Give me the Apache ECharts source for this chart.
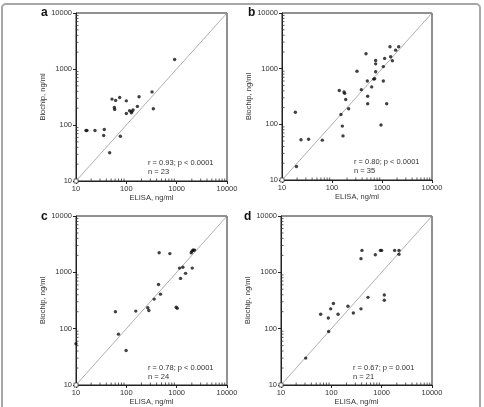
<!DOCTYPE html>
<html>
<head>
<meta charset="utf-8">
<script src="https://cdn.jsdelivr.net/npm/echarts@6/dist/echarts.min.js"></script>
<style>
  html, body { margin: 0; padding: 0; background: #fff; }
  #chart { width: 484px; height: 407px; }
</style>
</head>
<body>
<div id="chart"></div>
<script>
// ELISA (x) vs Biochip (y), ng/ml
const aElisa = [15.8, 16.5, 23.8, 36.5, 35.5, 46.7, 51.9, 61.4, 57.8, 58.7, 73.8, 76, 100, 100, 116, 126, 136, 166, 179, 324, 344, 912, 129]
const aChip  = [80, 80, 80, 83, 65, 32, 290, 275, 205, 190, 310, 63, 270, 160, 180, 165, 185, 215, 320, 390, 195, 1480, 175]

const bElisa = [18.5, 19.4, 24, 34, 64, 140, 151, 161, 166, 174, 179, 188, 215, 316, 386, 479, 509, 517, 517, 621, 681, 713, 747, 747, 747, 1063, 1063, 1130, 1240, 1445, 1490, 1610, 1875, 2154, 955]
const bChip  = [165, 17.5, 53, 54, 52, 405, 150, 93, 62, 380, 360, 280, 190, 900, 420, 1850, 600, 320, 235, 470, 650, 660, 880, 1400, 1220, 1090, 600, 1530, 235, 2480, 1640, 1390, 2150, 2480, 97]

const cElisa = [10, 60.7, 69.7, 98.9, 154, 267, 280, 357, 436, 449, 477, 732, 979, 1026, 1140, 1194, 1328, 1502, 1946, 2008, 2039, 2100, 2166, 2270]
const cChip  = [54, 200, 80, 41, 205, 235, 210, 335, 610, 2230, 410, 2150, 240, 230, 1190, 780, 1230, 960, 2230, 2360, 1190, 2480, 2480, 2480]

const dElisa = [31, 61.4, 87, 88.5, 97, 110, 136, 214, 274, 388, 388, 406, 535, 748, 941, 1000, 1129, 1129, 1811, 2208, 2208]
const dChip  = [30, 180, 155, 89, 225, 280, 180, 250, 190, 225, 1750, 2450, 360, 2050, 2450, 2450, 395, 320, 2450, 2450, 2100]

const panelLetters = ['a', 'b', 'c', 'd']
const statText = ['r = 0.93; p < 0.0001', 'r = 0.80; p < 0.0001', 'r = 0.78; p < 0.0001', 'r = 0.67; p = 0.001']
const statN = [23, 35, 24, 21]

const axisMin = 10
const axisMax = 10000
const minorTickValues = [20, 30, 40, 50, 60, 70, 80, 90, 200, 300, 400, 500, 600, 700, 800, 900, 2000, 3000, 4000, 5000, 6000, 7000, 8000, 9000]

const panels = [[aElisa, aChip], [bElisa, bChip], [cElisa, cChip], [dElisa, dChip]]

const boxes = [
  { left: 76, top: 13, width: 151, height: 168 },
  { left: 282, top: 13, width: 150, height: 167 },
  { left: 76, top: 216, width: 151, height: 170 },
  { left: 281, top: 216, width: 151, height: 170 }
]
const letterPos = [[41, 7], [248, 7], [41, 211], [244, 211]]

const font = "'Liberation Sans', Arial, sans-serif"
const txt = '#333'

let grids = [], xAxes = [], yAxes = [], series = [], graphics = []

graphics.push({
  type: 'rect', left: 1, top: 3, z: -10,
  shape: { width: 478, height: 420, r: 4 },
  style: { fill: '#fff', stroke: '#a8a8a8', lineWidth: 2 }
})

boxes.forEach((b, i) => {
  grids.push(Object.assign({ show: true, borderColor: '#222', borderWidth: 1, backgroundColor: '#fff' }, b))
  const common = {
    gridIndex: i, type: 'log', logBase: 10, min: axisMin, max: axisMax,
    nameLocation: 'middle',
    nameTextStyle: { fontFamily: font, fontSize: 7.5, color: txt },
    axisLine: { show: true, lineStyle: { color: '#222', width: 1 } },
    axisTick: { show: true, length: 3, lineStyle: { color: '#222' } },
    axisLabel: { fontFamily: font, fontSize: 7.5, color: txt, margin: 4, formatter: v => String(Math.round(v)) },
    splitLine: { show: false }
  }
  xAxes.push(Object.assign({}, common, { name: 'ELISA, ng/ml', nameGap: 13 }))
  yAxes.push(Object.assign({}, common, { name: 'Biochip, ng/ml', nameGap: 25 }))

  const [xs, ys] = panels[i]
  series.push({
    type: 'line', xAxisIndex: i, yAxisIndex: i, silent: true,
    data: [
      { value: [axisMin, axisMin], symbol: 'rect', symbolSize: 4 },
      { value: [axisMax, axisMax], symbol: 'none' }
    ],
    lineStyle: { color: '#9a9a9a', width: 0.8 },
    itemStyle: { color: '#fff', borderColor: '#444', borderWidth: 0.8 },
    z: 1
  })
  series.push({
    type: 'scatter', xAxisIndex: i, yAxisIndex: i,
    data: xs.map((x, k) => [x, ys[k]]),
    symbol: 'circle', symbolSize: 3.4,
    itemStyle: { color: '#111' },
    z: 3
  })
  // minor ticks inside the box
  series.push({
    type: 'custom', xAxisIndex: i, yAxisIndex: i, silent: true, clip: false,
    data: minorTickValues,
    renderItem: (params, api) => {
      const v = api.value(0)
      const px = api.coord([v, axisMin])
      const py = api.coord([axisMin, v])
      const st = { stroke: '#333', lineWidth: 0.8 }
      return {
        type: 'group',
        children: [
          { type: 'line', shape: { x1: px[0], y1: px[1], x2: px[0], y2: px[1] - 2.5 }, style: st },
          { type: 'line', shape: { x1: py[0], y1: py[1], x2: py[0] + 2.5, y2: py[1] }, style: st }
        ]
      }
    },
    z: 2
  })

  graphics.push({
    type: 'text', left: letterPos[i][0], top: letterPos[i][1],
    style: { text: panelLetters[i], font: 'bold 12px ' + font, fill: '#111' }
  })
  graphics.push({
    type: 'text', left: b.left + 72, top: b.top + b.height - 23,
    style: { text: statText[i] + '\nn = ' + statN[i], font: '7.5px ' + font, fill: txt, lineHeight: 9 }
  })
})

const chart = echarts.init(document.getElementById('chart'))
chart.setOption({
  animation: false,
  backgroundColor: '#fff',
  grid: grids,
  xAxis: xAxes,
  yAxis: yAxes,
  series: series,
  graphic: graphics
})
</script>
</body>
</html>
